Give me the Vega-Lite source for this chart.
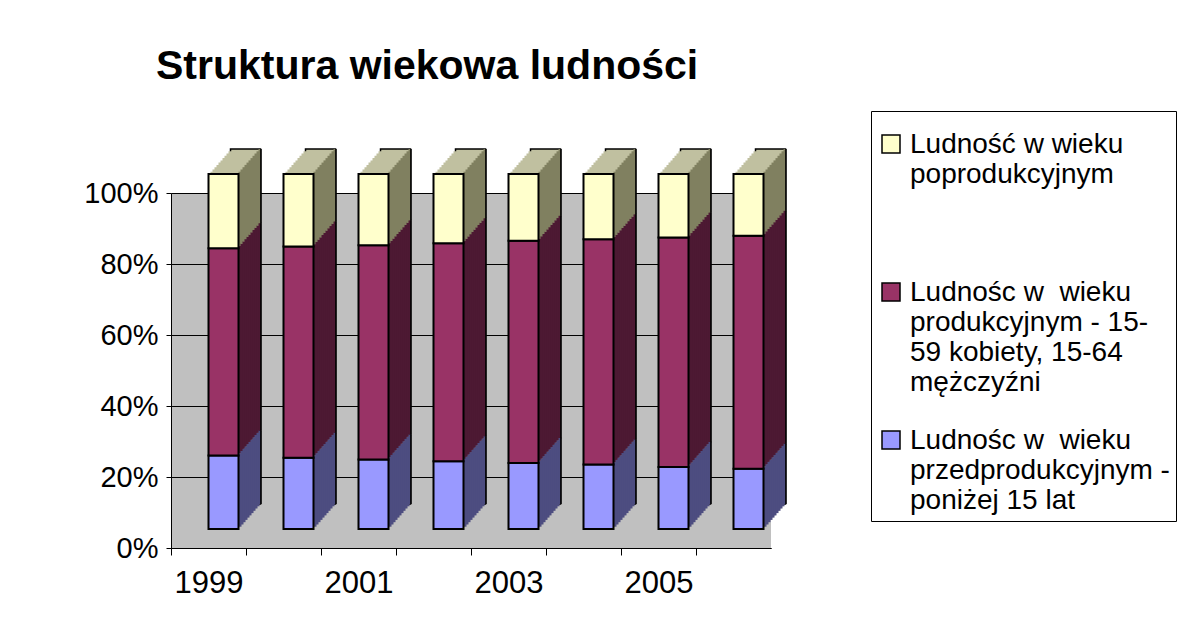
{
  "$schema": "https://vega.github.io/schema/vega-lite/v6.json",
  "autosize": {"type": "none"},
  "width": 600,
  "height": 355,
  "padding": {"left": 171, "top": 193, "right": 414, "bottom": 73},
  "background": "white",
  "title": {
    "text": "Struktura wiekowa ludności",
    "anchor": "start",
    "frame": "group",
    "font": "Liberation Sans",
    "fontSize": 41,
    "fontWeight": "bold",
    "color": "black",
    "baseline": "alphabetic",
    "dx": -15,
    "dy": 13
  },
  "config": {
    "view": {"fill": "#c0c0c0", "stroke": null},
    "font": "Liberation Sans"
  },
  "data": {
    "values": [
      {"rok": "1999", "grupa": "przedprodukcyjny", "udzial": 20.7},
      {"rok": "1999", "grupa": "produkcyjny", "udzial": 58.4},
      {"rok": "1999", "grupa": "poprodukcyjny", "udzial": 20.9},
      {"rok": "2000", "grupa": "przedprodukcyjny", "udzial": 20.1},
      {"rok": "2000", "grupa": "produkcyjny", "udzial": 59.5},
      {"rok": "2000", "grupa": "poprodukcyjny", "udzial": 20.4},
      {"rok": "2001", "grupa": "przedprodukcyjny", "udzial": 19.6},
      {"rok": "2001", "grupa": "produkcyjny", "udzial": 60.3},
      {"rok": "2001", "grupa": "poprodukcyjny", "udzial": 20.1},
      {"rok": "2002", "grupa": "przedprodukcyjny", "udzial": 19.1},
      {"rok": "2002", "grupa": "produkcyjny", "udzial": 61.4},
      {"rok": "2002", "grupa": "poprodukcyjny", "udzial": 19.5},
      {"rok": "2003", "grupa": "przedprodukcyjny", "udzial": 18.6},
      {"rok": "2003", "grupa": "produkcyjny", "udzial": 62.6},
      {"rok": "2003", "grupa": "poprodukcyjny", "udzial": 18.8},
      {"rok": "2004", "grupa": "przedprodukcyjny", "udzial": 18.2},
      {"rok": "2004", "grupa": "produkcyjny", "udzial": 63.4},
      {"rok": "2004", "grupa": "poprodukcyjny", "udzial": 18.4},
      {"rok": "2005", "grupa": "przedprodukcyjny", "udzial": 17.5},
      {"rok": "2005", "grupa": "produkcyjny", "udzial": 64.6},
      {"rok": "2005", "grupa": "poprodukcyjny", "udzial": 17.9},
      {"rok": "2006", "grupa": "przedprodukcyjny", "udzial": 17.0},
      {"rok": "2006", "grupa": "produkcyjny", "udzial": 65.6},
      {"rok": "2006", "grupa": "poprodukcyjny", "udzial": 17.4}
    ]
  },
  "encoding": {
    "x": {
      "field": "rok",
      "type": "ordinal",
      "scale": {"paddingInner": 0.6, "paddingOuter": 0.3},
      "axis": {
        "title": null,
        "labelAngle": 0,
        "labelFont": "Liberation Sans",
        "labelFontSize": 31,
        "labelColor": "black",
        "labelPadding": 13,
        "labelOverlap": false,
        "labelFlush": false,
        "labelExpr": "toNumber(datum.value) % 2 == 1 ? datum.label : ''",
        "tickOffset": -37.5,
        "labelOffset": 37.5,
        "tickSize": 7,
        "tickColor": "black",
        "domainColor": "black",
        "domainWidth": 1,
        "grid": false
      }
    },
    "y": {
      "field": "udzial",
      "type": "quantitative",
      "stack": "normalize",
      "scale": {"domain": [0, 1], "nice": false},
      "axis": {
        "title": null,
        "values": [0, 0.2, 0.4, 0.6, 0.8, 1],
        "format": ".0%",
        "labelFont": "Liberation Sans",
        "labelFontSize": 29,
        "labelColor": "black",
        "labelPadding": 8,
        "tickSize": 5,
        "tickColor": "black",
        "domainColor": "black",
        "grid": true,
        "gridColor": "black",
        "gridWidth": 1,
        "gridOpacity": 1
      }
    },
    "order": {"field": "grupa", "sort": "descending"}
  },
  "layer": [
    {"mark": {"type": "bar", "xOffset": 37, "yOffset": -44, "color": "#c0c0a0", "stroke": "black", "strokeWidth": 1.5}},
    {"mark": {"type": "bar", "xOffset": 35, "yOffset": -41.7, "color": "#c0c0a0", "strokeWidth": 0}},
    {"mark": {"type": "bar", "xOffset": 33, "yOffset": -39.5, "color": "#c0c0a0", "strokeWidth": 0}},
    {"mark": {"type": "bar", "xOffset": 31, "yOffset": -37.2, "color": "#c0c0a0", "strokeWidth": 0}},
    {"mark": {"type": "bar", "xOffset": 29, "yOffset": -34.9, "color": "#c0c0a0", "strokeWidth": 0}},
    {"mark": {"type": "bar", "xOffset": 27, "yOffset": -32.6, "color": "#c0c0a0", "strokeWidth": 0}},
    {"mark": {"type": "bar", "xOffset": 25, "yOffset": -30.4, "color": "#c0c0a0", "strokeWidth": 0}},
    {"mark": {"type": "bar", "xOffset": 23, "yOffset": -28.1, "color": "#c0c0a0", "strokeWidth": 0}},
    {"mark": {"type": "bar", "xOffset": 21, "yOffset": -25.8, "color": "#c0c0a0", "strokeWidth": 0}},
    {"mark": {"type": "bar", "xOffset": 19, "yOffset": -23.5, "color": "#c0c0a0", "strokeWidth": 0}},
    {"mark": {"type": "bar", "xOffset": 17, "yOffset": -21.3, "color": "#c0c0a0", "strokeWidth": 0}},
    {"mark": {"type": "bar", "xOffset": 31.5, "yOffset": -21.3, "width": 3, "strokeWidth": 0}, "encoding": {"fill": {"field": "grupa", "type": "nominal", "scale": {"domain": ["przedprodukcyjny", "produkcyjny", "poprodukcyjny"], "range": ["#4d4d80", "#4d1933", "#808060"]}, "legend": null}}},
    {"mark": {"type": "bar", "xOffset": 33.5, "yOffset": -23.5, "width": 3, "strokeWidth": 0}, "encoding": {"fill": {"field": "grupa", "type": "nominal", "legend": null}}},
    {"mark": {"type": "bar", "xOffset": 35.5, "yOffset": -25.8, "width": 3, "strokeWidth": 0}, "encoding": {"fill": {"field": "grupa", "type": "nominal", "legend": null}}},
    {"mark": {"type": "bar", "xOffset": 37.5, "yOffset": -28.1, "width": 3, "strokeWidth": 0}, "encoding": {"fill": {"field": "grupa", "type": "nominal", "legend": null}}},
    {"mark": {"type": "bar", "xOffset": 39.5, "yOffset": -30.4, "width": 3, "strokeWidth": 0}, "encoding": {"fill": {"field": "grupa", "type": "nominal", "legend": null}}},
    {"mark": {"type": "bar", "xOffset": 41.5, "yOffset": -32.6, "width": 3, "strokeWidth": 0}, "encoding": {"fill": {"field": "grupa", "type": "nominal", "legend": null}}},
    {"mark": {"type": "bar", "xOffset": 43.5, "yOffset": -34.9, "width": 3, "strokeWidth": 0}, "encoding": {"fill": {"field": "grupa", "type": "nominal", "legend": null}}},
    {"mark": {"type": "bar", "xOffset": 45.5, "yOffset": -37.2, "width": 3, "strokeWidth": 0}, "encoding": {"fill": {"field": "grupa", "type": "nominal", "legend": null}}},
    {"mark": {"type": "bar", "xOffset": 47.5, "yOffset": -39.5, "width": 3, "strokeWidth": 0}, "encoding": {"fill": {"field": "grupa", "type": "nominal", "legend": null}}},
    {"mark": {"type": "bar", "xOffset": 49.5, "yOffset": -41.7, "width": 3, "strokeWidth": 0}, "encoding": {"fill": {"field": "grupa", "type": "nominal", "legend": null}}},
    {"mark": {"type": "bar", "xOffset": 51, "yOffset": -44, "width": 2, "strokeWidth": 0}, "encoding": {"fill": {"field": "grupa", "type": "nominal", "legend": null}}},
    {"mark": {"type": "bar", "xOffset": 52.5, "yOffset": -44, "width": 1.5, "color": "black", "strokeWidth": 0}},
    {
      "mark": {"type": "bar", "xOffset": 15, "yOffset": -19, "stroke": "black", "strokeWidth": 2},
      "encoding": {
        "color": {
          "field": "grupa",
          "type": "nominal",
          "scale": {"domain": ["poprodukcyjny", "produkcyjny", "przedprodukcyjny"], "range": ["#ffffcc", "#993366", "#9999ff"]},
          "legend": {
            "title": null,
            "orient": "none",
            "legendX": 700,
            "legendY": -82,
            "padding": 6,
            "strokeColor": "black",
            "fillColor": "white",
            "direction": "vertical",
            "columns": 1,
            "gridAlign": "all",
            "rowPadding": 16,
            "labelFont": "Liberation Sans",
            "labelFontSize": 28,
            "labelLineHeight": 32.8,
            "labelBaseline": "top",
            "labelColor": "black",
            "labelLimit": 400,
            "labelOffset": 5,
            "symbolType": "M-1,0.45H1V2.45H-1Z",
            "symbolSize": 324,
            "symbolStrokeColor": "black",
            "symbolStrokeWidth": 1.5,
            "symbolOpacity": 1,
            "labelExpr": "datum.label == 'poprodukcyjny' ? ['Ludność w wieku', 'poprodukcyjnym'] : datum.label == 'produkcyjny' ? ['Ludnośc w\u00a0 wieku', 'produkcyjnym - 15-', '59 kobiety, 15-64', 'mężczyźni'] : ['Ludnośc w\u00a0 wieku', 'przedprodukcyjnym -', 'poniżej 15 lat']"
          }
        }
      }
    }
  ]
}
